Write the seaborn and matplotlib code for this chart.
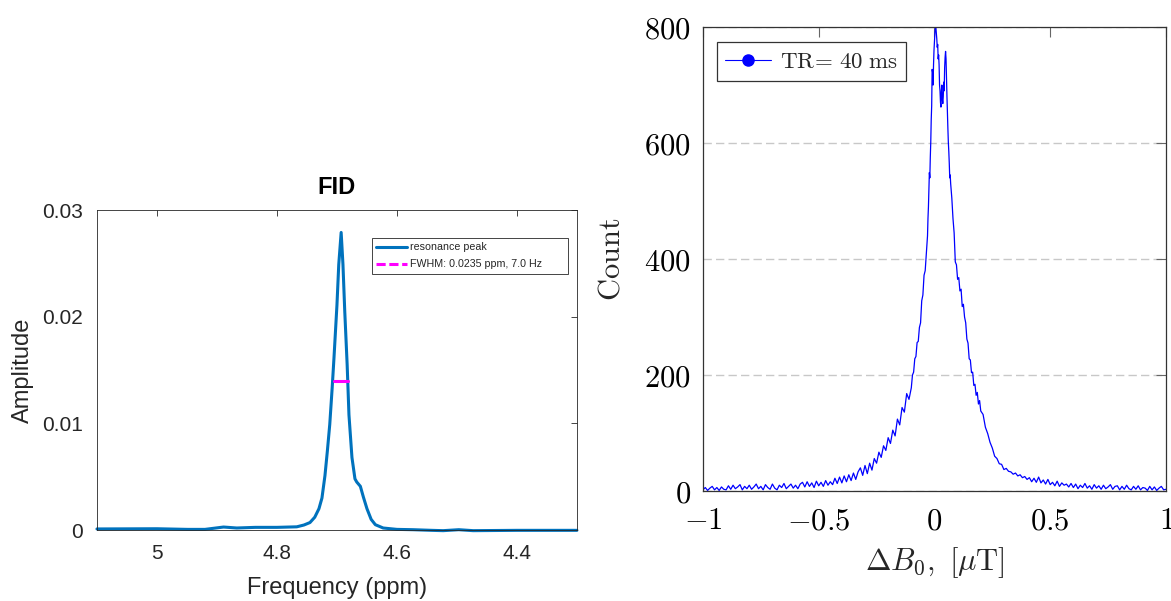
import numpy as np
import matplotlib
matplotlib.use("Agg")
import matplotlib.pyplot as plt
from matplotlib.lines import Line2D
import seaborn as sns

sns.set_style("white")
plt.rcParams['font.family'] = ['Liberation Sans', 'DejaVu Sans']
plt.rcParams['mathtext.fontset'] = 'cm'

# ---------------- left panel data (FID spectrum) ----------------
freq_ppm = [5.100, 5.000, 4.949, 4.920, 4.889, 4.867, 4.836, 4.800, 4.767, 4.755,
            4.745, 4.737, 4.730, 4.725, 4.720, 4.716, 4.712, 4.708, 4.705, 4.700,
            4.697, 4.693, 4.690, 4.687, 4.683, 4.680, 4.675, 4.670, 4.667, 4.661,
            4.656, 4.650, 4.643, 4.636, 4.623, 4.600, 4.573, 4.542, 4.523, 4.497,
            4.473, 4.400, 4.300]
amplitude = [0.00010, 0.00012, 0.00006, 0.00006, 0.00028, 0.00019, 0.00025, 0.00025, 0.00030, 0.00047,
             0.00070, 0.00120, 0.00200, 0.00300, 0.00510, 0.00740, 0.00990, 0.01330, 0.01610, 0.02110,
             0.02490, 0.02790, 0.02490, 0.02050, 0.01550, 0.01080, 0.00680, 0.00480, 0.00450, 0.00410,
             0.00310, 0.00200, 0.00100, 0.00050, 0.00019, 0.00006, 0.00003, -0.00003, -0.00006, 0.00003,
             -0.00006, -0.00003, -0.00003]
fwhm_ppm = [4.7055, 4.6820]
fwhm_amp = [0.01394, 0.01394]
left_xticks = [5.0, 4.8, 4.6, 4.4]
left_xticklabels = ['5', '4.8', '4.6', '4.4']
left_yticks = [0.0, 0.01, 0.02, 0.03]
left_yticklabels = ['0', '0.01', '0.02', '0.03']
left_labels = ['resonance peak', 'FWHM: 0.0235 ppm, 7.0 Hz']

# ---------------- right panel data (Delta B0 histogram) ----------------
count_a = [2, 6, 1, 5, 8, 2, 6, 1, 7, 3,
           2, 9, 3, 10, 4, 7, 11, 2, 8, 4,
           10, 3, 7, 12, 4, 8, 2, 11, 6, 3,
           12, 5, 2, 10, 6, 13, 4, 8, 12, 5,
           10, 4, 12, 15, 7, 16, 8, 14, 6, 17,
           9, 15, 8, 18, 10, 16, 11, 22, 13, 24,
           14, 26, 16, 28, 18, 31, 20, 33, 40, 27,
           44, 30, 48, 36, 56, 48, 67, 58, 78, 70,
           92, 82, 105, 95, 124, 114, 144, 136, 168, 158]          # -1.00 .. -0.11
count_b = [178, 200, 205, 228, 232, 256, 258, 282, 290, 328, 338, 372, 380, 410]  # -0.100 .. -0.035
count_c = [440, 470, 490, 520, 549, 540, 575, 601, 640, 664,
           727, 722, 700, 735, 760, 775, 790, 800, 800, 790,
           780, 765, 770, 745, 752, 735, 700, 690, 670, 662,
           690, 700, 675, 668, 680, 705, 690, 730, 748, 758,
           745, 710, 680, 650, 625, 601, 585, 565, 540, 545,
           530]                                                       # -0.030 .. 0.070
count_d = [505, 470, 445, 395, 390, 365, 368, 345, 348, 318,
           322, 300, 290, 262, 255, 228, 226, 204, 205, 182,
           184, 165, 170, 150, 156, 138]                              # 0.075 .. 0.200
count_e = [132, 110, 99, 84, 74, 60, 56, 47, 46, 37,
           39, 34, 33, 29, 31, 26, 28, 23, 25, 20,
           23, 16, 22, 15, 24, 14, 19, 12, 20, 11,
           15, 9, 17, 8, 14, 10, 12, 7, 13, 6,
           12, 4, 10, 6, 13, 5, 9, 3, 11, 5,
           9, 3, 10, 4, 7, 11, 3, 8, 9, 2,
           8, 3, 10, 4, 2, 8, 3, 9, 2, 6,
           5, 1, 8, 2, 7, 1, 5, 8, 2, 3]                              # 0.21 .. 1.00
b0_a = np.linspace(-1.00, -0.11, len(count_a))
b0_b = np.linspace(-0.100, -0.035, len(count_b))
b0_c = np.linspace(-0.030, 0.070, len(count_c))
b0_d = np.linspace(0.075, 0.200, len(count_d))
b0_e = np.linspace(0.21, 1.00, len(count_e))
assert len(count_a) == 90 and len(count_b) == 14 and len(count_c) == 51
assert len(count_d) == 26 and len(count_e) == 80
delta_b0 = np.concatenate([b0_a, b0_b, b0_c, b0_d, b0_e])
counts = np.concatenate([count_a, count_b, count_c, count_d, count_e])
right_xticks = [-1, -0.5, 0, 0.5, 1]
right_xticklabels = ['$-1$', '$-0.5$', '$0$', '$0.5$', '$1$']
right_yticks = [0, 200, 400, 600, 800]
right_yticklabels = ['$0$', '$200$', '$400$', '$600$', '$800$']
right_label = r'$\mathrm{TR}\!=\,40\ \mathrm{ms}$'

# ---------------- figure ----------------
fig = plt.figure(figsize=(11.71, 6.01), dpi=100)

# left
matlab_blue = '#0072BD'
ax1 = fig.add_axes([0.0828, 0.1181, 0.4099, 0.5324])
sns.lineplot(x=freq_ppm, y=amplitude, ax=ax1, color=matlab_blue, lw=2.2,
             estimator=None, sort=False, clip_on=False)
sns.lineplot(x=fwhm_ppm, y=fwhm_amp, ax=ax1, color='#FF00FF', lw=2.2,
             estimator=None, sort=False)
ax1.set_xlim(5.1, 4.3)
ax1.set_ylim(0, 0.03)
ax1.set_xticks(left_xticks)
ax1.set_xticklabels(left_xticklabels)
ax1.set_yticks(left_yticks)
ax1.set_yticklabels(left_yticklabels)
ax1.tick_params(direction='in', top=True, right=True, length=4, width=0.6,
                color='#262626', labelcolor='#262626', labelsize=15, pad=10)
for s in ax1.spines.values():
    s.set_color('#262626')
    s.set_linewidth(0.6)
ax1.set_xlabel('Frequency (ppm)', fontsize=17, color='#262626')
ax1.set_ylabel('Amplitude', fontsize=17, color='#262626')
ax1.xaxis.set_label_coords(0.5, -0.181)
ax1.xaxis.label.set_va('center')
ax1.yaxis.set_label_coords(-0.154, 0.5)
ax1.yaxis.label.set_va('center')
ax1.set_title('FID', fontsize=17, fontweight='bold', y=1.069, va='center', pad=0,
              color='black')
h1 = [Line2D([], [], color=matlab_blue, lw=2.2),
      Line2D([], [], color='#FF00FF', lw=2.2, ls='--', dashes=(3.0, 1.2))]
leg1 = ax1.legend(h1, left_labels, loc='upper left',
                  bbox_to_anchor=(0.573, 0.794, 0.408, 0.1185), mode='expand',
                  fontsize=7.7, frameon=True, fancybox=False, edgecolor='#262626',
                  framealpha=1, borderaxespad=0, handlelength=2.9, borderpad=0.4,
                  labelspacing=0.65, handletextpad=0.25)
leg1.get_frame().set_linewidth(0.6)

# right
ax2 = fig.add_axes([0.6003, 0.183, 0.3954, 0.772])
sns.lineplot(x=delta_b0, y=counts, ax=ax2, color='#0000FF', lw=0.9,
             estimator=None, sort=False)
ax2.set_xlim(-1, 1)
ax2.set_ylim(0, 800)
ax2.set_xticks(right_xticks)
ax2.set_xticklabels(right_xticklabels)
ax2.set_yticks(right_yticks)
ax2.set_yticklabels(right_yticklabels)
ax2.grid(axis='y', color='#c8c8c8', lw=1.0, ls=(0, (6, 3)))
ax2.grid(axis='x', visible=False)
ax2.set_axisbelow(True)
ax2.tick_params(direction='in', top=True, right=True, length=7, width=0.8,
                color='#666666', labelcolor='black', labelsize=22)
ax2.tick_params(axis='x', pad=11)
ax2.tick_params(axis='y', pad=8.5)
for s in ax2.spines.values():
    s.set_color('#333333')
    s.set_linewidth(0.9)
ax2.set_xlabel(r'$\Delta B_0,\ [\mu\mathrm{T}]$', fontsize=22)
ax2.set_ylabel(r'$\mathrm{Count}$', fontsize=22)
ax2.xaxis.set_label_coords(0.5, -0.155)
ax2.xaxis.label.set_va('center')
ax2.yaxis.set_label_coords(-0.197, 0.5)
ax2.yaxis.label.set_va('center')
h2 = [Line2D([], [], color='#0000FF', lw=0.8, marker='o', markersize=8)]
leg2 = ax2.legend(h2, [right_label], loc='upper left', bbox_to_anchor=(0.030, 0.968),
                  fontsize=16.5, frameon=True, fancybox=False, edgecolor='#333333',
                  framealpha=1, borderaxespad=0, handlelength=2.0, borderpad=0.35,
                  handletextpad=0.4)
leg2.get_frame().set_linewidth(0.9)

fig.savefig('out.png', dpi=100)
